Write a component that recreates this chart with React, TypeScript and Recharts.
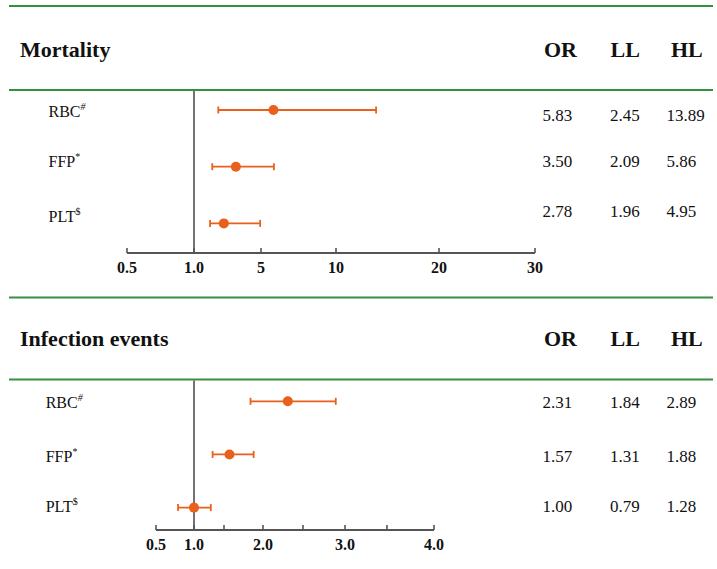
import React from "react";
import {
  ScatterChart,
  Scatter,
  XAxis,
  YAxis,
  ErrorBar,
  ReferenceLine,
} from "recharts";

// row names and their footnote marks
const ROWS = ["RBC", "FFP", "PLT"];
const MARKS = ["#", "*", "$"];

// mortality: odds ratio with lower / upper limits
const MORT_OR = [5.83, 3.5, 2.78];
const MORT_LL = [2.45, 2.09, 1.96];
const MORT_HL = [13.89, 5.86, 4.95];

// infection events
const INF_OR = [2.31, 1.57, 1.0];
const INF_LL = [1.84, 1.31, 0.79];
const INF_HL = [2.89, 1.88, 1.28];

const MORT_TICKS = [0.5, 1, 5, 10, 20, 30];
const MORT_TICK_LABELS = ["0.5", "1.0", "5", "10", "20", "30"];
const INF_TICKS = [0.5, 1, 1.5, 2, 2.5, 3, 3.5, 4];
const INF_TICK_LABELS = ["0.5", "1.0", "", "2.0", "", "3.0", "", "4.0"];

const W = 717;
const H = 569;
const GREEN = "#3a8f3f";
const ORANGE = "#e8601c";
const AXIS = "#555555";
const FONT = '"Liberation Serif", "Times New Roman", serif';

// the axes are broken scales: each tick sits at its own distance (px) along the axis
const MORT_STOPS = [0, 67, 134, 209, 312, 408];
const INF_STOPS = [0, 38, 68, 107, 147, 189, 231, 278];

function makeWarp(ticks: number[], stops: number[]) {
  return (v: number) => {
    let i = 1;
    while (i < ticks.length - 1 && v > ticks[i]) i++;
    const t = (v - ticks[i - 1]) / (ticks[i] - ticks[i - 1]);
    return stops[i - 1] + t * (stops[i] - stops[i - 1]);
  };
}

function AxisTick(props: any) {
  const { x, y, payload, stops, labels } = props;
  const idx = stops.indexOf(payload.value);
  const label = labels[idx] ?? "";
  return (
    <g>
      <line x1={x} x2={x} y1={y - 5} y2={y} stroke={AXIS} strokeWidth={1.6} />
      {label && (
        <text
          x={x}
          y={y + 20}
          textAnchor="middle"
          fontFamily={FONT}
          fontWeight="bold"
          fontSize={16}
          fill="#111"
        >
          {label}
        </text>
      )}
    </g>
  );
}

interface ForestProps {
  ors: number[];
  lls: number[];
  hls: number[];
  ticks: number[];
  tickLabels: string[];
  stops: number[];
  plotLeft: number;
  plotTop: number;
  axisY: number;
  firstRowY: number;
  rowStep: number;
}

function Forest({
  ors,
  lls,
  hls,
  ticks,
  tickLabels,
  stops,
  plotLeft,
  plotTop,
  axisY,
  firstRowY,
  rowStep,
}: ForestProps) {
  const warp = makeWarp(ticks, stops);
  const points = ors.map((or, i) => ({
    x: warp(or),
    y: i,
    err: [warp(or) - warp(lls[i]), warp(hls[i]) - warp(or)],
  }));
  const span = stops[stops.length - 1];
  const y0 = -(firstRowY - plotTop) / rowStep;
  const y1 = y0 + (axisY - plotTop) / rowStep;
  const axisH = 30;

  return (
    <div style={{ position: "absolute", left: 0, top: 0 }}>
      <ScatterChart
        width={W}
        height={H}
        margin={{
          top: plotTop,
          left: plotLeft,
          right: W - plotLeft - span,
          bottom: H - axisY - axisH,
        }}
      >
        <XAxis
          type="number"
          dataKey="x"
          domain={[0, span]}
          ticks={stops}
          interval={0}
          height={axisH}
          tickLine={false}
          tickSize={0}
          tickMargin={0}
          axisLine={{ stroke: AXIS, strokeWidth: 2 }}
          allowDataOverflow
          tick={(p: any) => <AxisTick {...p} stops={stops} labels={tickLabels} />}
        />
        <YAxis type="number" dataKey="y" domain={[y0, y1]} reversed hide allowDataOverflow />
        <ReferenceLine x={warp(1)} stroke="#444" strokeWidth={1.5} />
        <Scatter
          data={points}
          fill={ORANGE}
          isAnimationActive={false}
          shape={(p: any) => <circle cx={p.cx} cy={p.cy} r={5} fill={ORANGE} />}
        >
          <ErrorBar
            dataKey="err"
            direction="x"
            width={3.5}
            stroke={ORANGE}
            strokeWidth={1.8}
            isAnimationActive={false}
          />
        </Scatter>
      </ScatterChart>
    </div>
  );
}

function RowLabel({ x, y, i }: { x: number; y: number; i: number }) {
  return (
    <text x={x} y={y} fontFamily={FONT} fontSize={16} fill="#111">
      {ROWS[i]}
      <tspan fontSize={10} fontStyle={i === 0 ? "italic" : "normal"} dy={-7}>
        {MARKS[i]}
      </tspan>
    </text>
  );
}

function ValueRow({ y, vals }: { y: number; vals: number[] }) {
  const cols = [542.5, 610, 666.5];
  return (
    <>
      {vals.map((v, k) => (
        <text key={k} x={cols[k]} y={y} fontFamily={FONT} fontSize={17} fill="#111">
          {v.toFixed(2)}
        </text>
      ))}
    </>
  );
}

function Header({ title, y }: { title: string; y: number }) {
  const heads = ["OR", "LL", "HL"];
  const xs = [544, 610.5, 671];
  return (
    <>
      <text x={20} y={y} fontFamily={FONT} fontWeight="bold" fontSize={22} fill="#111">
        {title}
      </text>
      {heads.map((h, k) => (
        <text key={h} x={xs[k]} y={y} fontFamily={FONT} fontWeight="bold" fontSize={22} fill="#111">
          {h}
        </text>
      ))}
    </>
  );
}

export default function App() {
  const mortLabelY = [117.3, 166.7, 221.7];
  const mortValueY = [120.7, 166.7, 217.3];
  const infLabelY = [408.3, 461.7, 511.7];
  const infValueY = [408, 461.7, 511.7];

  return (
    <div
      style={{
        position: "absolute",
        left: 0,
        top: 0,
        width: W,
        height: H,
        background: "#fff",
      }}
    >
      <svg width={W} height={H} style={{ position: "absolute", left: 0, top: 0 }}>
        {[6, 90, 297.5, 379.5].map((y) => (
          <line key={y} x1={9} x2={713} y1={y} y2={y} stroke={GREEN} strokeWidth={2.2} />
        ))}
        <Header title="Mortality" y={57} />
        <Header title="Infection events" y={346} />
        {ROWS.map((_, i) => (
          <RowLabel key={"m" + i} x={48.5} y={mortLabelY[i]} i={i} />
        ))}
        {ROWS.map((_, i) => (
          <RowLabel key={"f" + i} x={45.7} y={infLabelY[i]} i={i} />
        ))}
        {ROWS.map((_, i) => (
          <ValueRow key={"mv" + i} y={mortValueY[i]} vals={[MORT_OR[i], MORT_LL[i], MORT_HL[i]]} />
        ))}
        {ROWS.map((_, i) => (
          <ValueRow key={"iv" + i} y={infValueY[i]} vals={[INF_OR[i], INF_LL[i], INF_HL[i]]} />
        ))}
      </svg>
      <Forest
        ors={MORT_OR}
        lls={MORT_LL}
        hls={MORT_HL}
        ticks={MORT_TICKS}
        tickLabels={MORT_TICK_LABELS}
        stops={MORT_STOPS}
        plotLeft={127}
        plotTop={91}
        axisY={253}
        firstRowY={110}
        rowStep={56.7}
      />
      <Forest
        ors={INF_OR}
        lls={INF_LL}
        hls={INF_HL}
        ticks={INF_TICKS}
        tickLabels={INF_TICK_LABELS}
        stops={INF_STOPS}
        plotLeft={156}
        plotTop={380.5}
        axisY={530}
        firstRowY={401.3}
        rowStep={53.15}
      />
    </div>
  );
}
